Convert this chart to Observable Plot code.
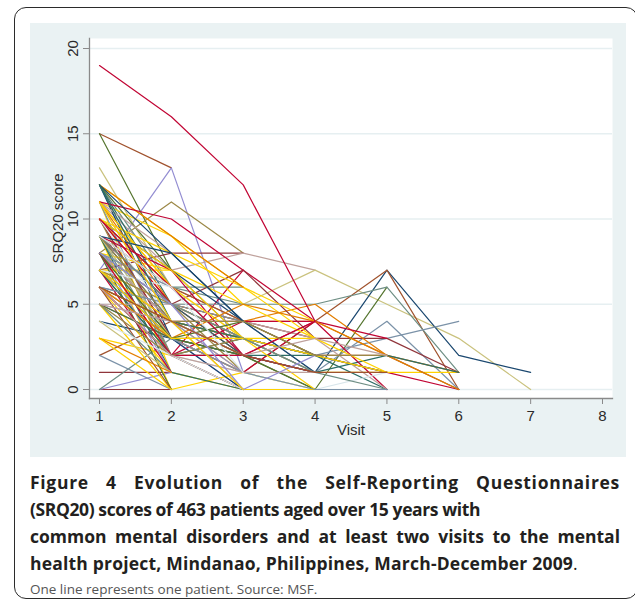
<!DOCTYPE html>
<html>
<head>
<meta charset="utf-8">
<script src="https://cdn.jsdelivr.net/npm/d3@7"></script>
<script src="https://cdn.jsdelivr.net/npm/@observablehq/plot@0.6"></script>
<style>
  html, body { margin: 0; padding: 0; background: #fff; }
  #page { position: relative; width: 635px; height: 606px; overflow: hidden; background: #fff; }
  #border { position: absolute; left: 14px; top: 7px; width: 624px; height: 592px; border: 1.5px solid #2b2b2b; border-radius: 12px; box-sizing: border-box; }
  #panel { position: absolute; left: 30px; top: 23px; width: 596px; height: 434px; background: #eaf2f3; }
  #caption { position: absolute; left: 30px; top: 469px; width: 590px; font-family: "Open Sans", sans-serif; color: #231f20; }
  #caption .b { font-weight: 700; font-size: 17.5px; line-height: 27px; white-space: nowrap; }
  #caption .j { text-align: justify; text-align-last: justify; }
  #caption .l1 { letter-spacing: 0.7px; }
  #caption .l2 { letter-spacing: -0.4px; }
  #caption .l4 { letter-spacing: 0.2px; }
  #caption .n { font-weight: 400; font-size: 13.5px; line-height: 24px; color: #555; white-space: nowrap; }
</style>
</head>
<body>
<div id="page">
  <div id="border"></div>
  <div id="panel"></div>
  <div id="caption">
    <div class="b j l1">Figure 4 Evolution of the Self-Reporting Questionnaires</div>
    <div class="b l2">(SRQ20) scores of 463 patients aged over 15 years with</div>
    <div class="b j">common mental disorders and at least two visits to the mental</div>
    <div class="b l4">health project, Mindanao, Philippines, March-December 2009<span style="font-weight:400">.</span></div>
    <div class="n">One line represents one patient. Source: MSF.</div>
  </div>
</div>
<script>
// Stata s2color palette
const palette = ["#1a476f", "#90353b", "#55752f", "#e37e00", "#6e8e84", "#c10534", "#938dd2", "#cac27e",
                 "#a0522d", "#7b92a8", "#2d6d66", "#9c8847", "#bfa19c", "#ffd200", "#d9e6eb"];
const visits = [1, 2, 3, 4, 5, 6, 7, 8];
const yTicks = [0, 5, 10, 15, 20];

// SRQ20 score at each successive visit, one array per patient
const scores = [
  [15, 13], [7, 13, 1], [15, 7, 3], [13, 6, 2], [8, 11, 8], [7, 8, 8], [11, 7, 8, 7],
  [9, 5, 5, 7, 5, 3, 0], [9, 4, 2, 1, 7, 2, 1], [6, 3, 1, 4, 7, 0], [8, 3, 2, 0, 6],
  [10, 6, 5, 5, 6, 1], [6, 4, 3, 2, 3, 4], [5, 3, 2, 1, 4, 0], [12, 6, 6], [1, 1], [0, 0],
  [0, 1], [0, 3], [2, 4], [3, 2], [4, 3], [7, 7],
  [8, 4, 3, 2, 1, 0], [7, 5, 3, 1, 1, 1], [6, 4, 1, 0, 0], [9, 5, 3, 2, 2, 0], [8, 5, 4, 3, 3, 1],
  [10, 5, 4, 4, 2, 1], [11, 6, 4, 5, 2, 0], [7, 3, 2, 1, 2, 1],
  [9, 5, 2, 4, 0], [6, 4, 3, 2, 0], [8, 6, 4, 3, 0], [5, 2, 1, 0, 1],
  [8, 2, 7, 4], [9, 5, 7, 3], [6, 2, 4, 4, 3], [10, 3, 1, 4], [7, 4, 4, 2], [9, 3, 3, 2],
  [8, 4, 2, 2, 1], [6, 5, 4, 1], [7, 2, 2, 0], [5, 3, 0, 0, 0], [12, 9, 5, 3], [11, 9, 6, 3],
  [8, 7, 5], [10, 6, 3, 3, 1], [5, 0, 1], [9, 0], [11, 1], [6, 1, 0, 0],
  [12, 3], [12, 5, 2], [12, 7], [11, 4], [11, 5, 3], [11, 8], [11, 2], [10, 3], [10, 5],
  [10, 7, 4], [10, 2, 0], [10, 4], [9, 2], [9, 6, 4], [9, 1, 0], [9, 7, 2], [9, 3, 1],
  [8, 2], [8, 5, 3, 2], [8, 1], [8, 6, 2, 1], [8, 0], [8, 4, 0], [7, 3, 0], [7, 5, 1],
  [7, 1], [7, 6, 3], [7, 2, 3, 1], [6, 2, 0], [6, 4, 2], [6, 3], [6, 0], [6, 5, 5],
  [5, 3, 2], [5, 1], [5, 5, 3, 1], [5, 4, 1], [5, 2, 3], [4, 2, 0], [4, 1], [3, 1], [2, 0],
  [11, 6, 3, 2, 1], [10, 8, 6, 4], [12, 9, 6], [11, 10, 7], [10, 7, 3], [9, 8, 4, 1],
  [7, 4, 3, 0], [8, 2, 2, 1], [6, 3, 5, 4, 2], [12, 8, 4], [12, 4, 3], [9, 5, 3, 1, 0],
  [8, 3, 4, 2], [10, 6, 2, 4], [7, 3, 1, 0, 0], [6, 2, 1, 1], [8, 5, 0, 2], [9, 4, 4, 2, 2],
  [5, 4, 2, 3, 2], [11, 4, 0], [3, 0], [7, 3, 3], [6, 4, 2, 1, 1], [9, 6, 1],
  [19, 16, 12, 4]
];
// palette index of each patient's line
const colorIdx = [
  8, 6, 2, 7, 11, 1, 12,
  7, 0, 8, 2,
  4, 9, 9, 4, 1, 1,
  6, 4, 8, 13, 0, 13,
  5, 13, 13, 8, 1,
  3, 3, 10,
  5, 10, 12, 14,
  5, 1, 5, 5, 1, 4,
  10, 9, 2, 6, 13, 13,
  13, 13, 13, 13, 13, 13,
  0, 10, 2, 6, 3, 12, 9, 1, 5,
  0, 11, 14, 4, 8, 10, 5, 7,
  3, 4, 6, 9, 2, 12, 0, 11,
  5, 14, 10, 1, 3, 7, 8, 9,
  2, 4, 12, 6, 11, 14, 7, 3, 9,
  13, 13, 3, 5, 13, 0,
  13, 5, 3, 0, 10, 4,
  2, 5, 9, 12, 6, 11,
  12, 13, 13, 13, 8, 14,
  5
];

const rows = scores.flatMap((s, p) =>
  s.map((v, i) => ({patient: p, visit: visits[i], score: v, color: palette[colorIdx[p]]})));

const chart = Plot.plot({
  width: 596,
  height: 434,
  marginLeft: 59,
  marginRight: 14,
  marginTop: 15,
  marginBottom: 59,
  style: {background: "transparent", fontFamily: "'Liberation Sans', Arial, sans-serif", fontSize: "15px", color: "#2a2a2a"},
  x: {domain: [1, 8], insetLeft: 10, insetRight: 10, ticks: visits, label: null},
  y: {domain: [0, 20], insetTop: 10, insetBottom: 9, ticks: yTicks, label: null},
  color: {type: "identity"},
  marks: [
    Plot.frame({fill: "white", stroke: null}),
    Plot.gridY(yTicks, {stroke: "#e6eff1", strokeOpacity: 1, strokeWidth: 1.5}),
    Plot.line(rows, {x: "visit", y: "score", z: "patient", stroke: "color", strokeWidth: 1.2, curve: "linear"}),
    Plot.frame({anchor: "left", stroke: "#8a8a8a", strokeWidth: 1.3}),
    Plot.frame({anchor: "bottom", stroke: "#8a8a8a", strokeWidth: 1.3}),
    Plot.axisX(visits, {tickSize: 6, tickPadding: 6, stroke: "#8a8a8a", fill: "#2a2a2a", label: null}),
    Plot.axisY(yTicks, {tickSize: 6, tickPadding: 6, tickRotate: -90, stroke: "#8a8a8a", fill: "#2a2a2a", label: null}),
    Plot.text(["SRQ20 score"], {text: d => d, frameAnchor: "left", textAnchor: "middle", lineAnchor: "middle", rotate: -90, dx: -31, fill: "#2a2a2a"}),
    Plot.text(["Visit"], {text: d => d, frameAnchor: "bottom", lineAnchor: "middle", dy: 32, fill: "#2a2a2a"})
  ]
});
document.getElementById("panel").appendChild(chart);
</script>
</body>
</html>
